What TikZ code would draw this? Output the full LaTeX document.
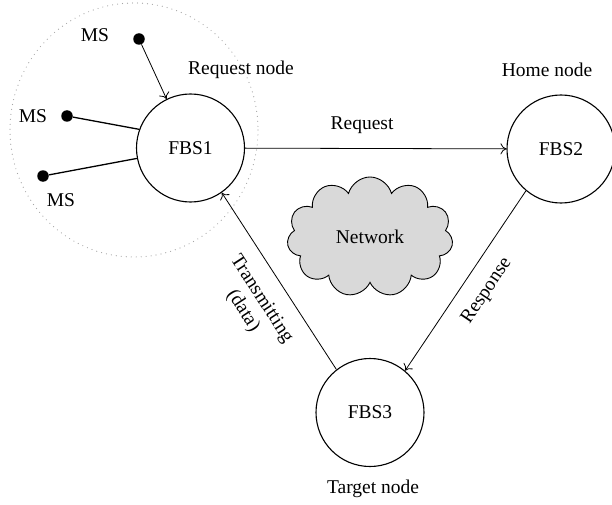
\documentclass[tikz,border=0pt]{standalone}
\usepackage{fontspec}
\setmainfont{Liberation Serif}
\usetikzlibrary{arrows.meta,shapes.symbols}
\begin{document}
\begin{tikzpicture}[x=1pt,y=-1pt,
 fbs/.style={circle,draw,line width=1.1pt,minimum size=108pt,inner sep=0pt,font=\fontsize{19.5}{22}\selectfont},
 lbl/.style={font=\fontsize{19.5}{22}\selectfont,inner sep=0pt},
 msdot/.style={circle,fill=black,minimum size=11.5pt,inner sep=0pt},
 arr/.style={line width=0.8pt,-{To[length=6pt,width=11pt]}},
 ln/.style={line width=1.3pt}]
\useasboundingbox (0,0) rectangle (612,505);
\draw[gray!70, line width=1.2pt, dash pattern=on 0pt off 5pt, line cap=round]
  (134,130) ellipse [x radius=124, y radius=127];
\node[fbs] (f1) at (190.5,148) {FBS1};
\node[fbs] (f2) at (561,149) {FBS2};
\node[fbs] (f3) at (370,412.5) {FBS3};
\node[cloud, cloud puffs=11, aspect=1.4, draw, line width=0.9pt, fill=black!15,
      minimum width=166pt, minimum height=120pt, lbl] (net) at (370,237) {Network};
\node[msdot] (m1) at (139,39) {};
\node[msdot] (m2) at (67,116) {};
\node[msdot] (m3) at (43,176) {};
\node[lbl] (t1) at (95,35) {MS};
\node[lbl] (t2) at (33,116) {MS};
\node[lbl] (t3) at (61,200) {MS};
\draw[arr] (m1) -- (f1.116);
\draw[ln] (m2) -- (f1.160);
\draw[ln] (m3) -- (f1.191);
\draw[arr] (f1) -- (f2);
\draw[arr] (f2.230) -- (f3.50);
\draw[arr] (f3.128) -- (f1.-55);
\node[lbl] (lreq) at (362,125) {Request};
\node[lbl, rotate=56] (lresp) at (487,291) {Response};
\node[lbl, rotate=-57, align=center] (ltx) at (252,305) {Transmitting\\(data)};
\node[lbl] (lrn) at (241,70) {Request node};
\node[lbl] (lhn) at (547,70) {Home node};
\node[lbl] (ltn) at (373,489) {Target node};
\end{tikzpicture}
\end{document}
